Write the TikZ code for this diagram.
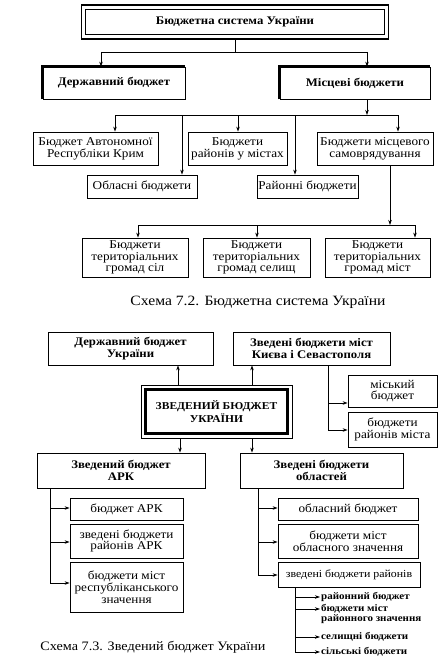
\documentclass[tikz,border=0pt]{standalone}
\usepackage{fontspec}
\setmainfont[FakeStretch=1.1]{Liberation Serif}
\usetikzlibrary{arrows.meta}
\begin{document}
\begin{tikzpicture}[x=1pt, y=-1pt]
\useasboundingbox (0,0) rectangle (444,661);

\tikzset{BoxStyle/.style = {
 draw,
 line width = 0.8pt,
 align = center,
 inner sep = 1pt,
 font = \fontsize{12}{11.8}\selectfont} }
\tikzset{HeadStyle/.style = {BoxStyle, font = \fontsize{11.6}{12.5}\selectfont\bfseries} }
\tikzset{ListStyle/.style = {inner sep = 1pt, align = left, font = \fontsize{10}{10.5}\selectfont\bfseries} }
\tikzset{LineStyle/.style = {line width = 0.7pt} }
\tikzset{ArrowStyle/.style = {LineStyle, -{Stealth[length=5pt, width=3.5pt]}} }

% Схема 7.2
\node[HeadStyle, line width=1.6pt, minimum width=307pt, minimum height=34pt] (SYS) at (235,22) {Бюджетна система України};
\draw[LineStyle] ([xshift=5pt,yshift=-5pt]SYS.north west) rectangle ([xshift=-5pt,yshift=5pt]SYS.south east);

\node[HeadStyle, minimum width=142pt, minimum height=32pt] (DB) at (114,83) {Державний бюджет};
\node[HeadStyle, minimum width=150pt, minimum height=32pt] (MB) at (355,83) {Місцеві бюджети};
\draw[line width=2.4pt] (DB.south west) -- (DB.north west) -- (DB.north east);
\draw[line width=2.4pt] (MB.south west) -- (MB.north west) -- (MB.north east);

\coordinate (S1) at (101,52);
\coordinate (S2) at (367,52);
\draw[LineStyle] (SYS.south) -- (SYS.south |- S1);
\draw[LineStyle] (S1) -- (S2);
\draw[ArrowStyle] (S1) -- (S1 |- DB.north);
\draw[ArrowStyle] (S2) -- (S2 |- MB.north);

\node[BoxStyle, minimum width=125pt, minimum height=33pt] (AR) at (95.5,148.5) {Бюджет Автономної\\Республіки Крим};
\node[BoxStyle, minimum width=99pt, minimum height=33pt] (RM) at (237.5,148.5) {Бюджети\\районів у містах};
\node[BoxStyle, minimum width=116pt, minimum height=33pt] (SV) at (375,148.5) {Бюджети місцевого\\самоврядування};
\node[BoxStyle, minimum width=110pt, minimum height=23pt] (OB) at (142,186.5) {Обласні бюджети};
\node[BoxStyle, minimum width=101pt, minimum height=23pt] (RB) at (307.5,186.5) {Районні бюджети};

\coordinate (L1) at (115,115);
\coordinate (L2) at (182,115);
\coordinate (L3) at (238,115);
\coordinate (L4) at (295,115);
\coordinate (L5) at (398,115);
\draw[ArrowStyle] (S2 |- MB.south) -- (S2 |- L1);
\draw[LineStyle] (L1) -- (L5);
\draw[ArrowStyle] (L1) -- (L1 |- AR.north);
\draw[ArrowStyle] (L2) -- (L2 |- OB.north);
\draw[ArrowStyle] (L3) -- (L3 |- RM.north);
\draw[ArrowStyle] (L4) -- (L4 |- RB.north);
\draw[ArrowStyle] (L5) -- (L5 |- SV.north);

\node[BoxStyle, minimum width=106pt, minimum height=39pt] (GS) at (135,257.5) {Бюджети\\територіальних\\громад сіл};
\node[BoxStyle, minimum width=107pt, minimum height=39pt] (GL) at (256.5,257.5) {Бюджети\\територіальних\\громад селищ};
\node[BoxStyle, minimum width=105pt, minimum height=39pt] (GM) at (377.5,257.5) {Бюджети\\територіальних\\громад міст};

\coordinate (G0) at (390,225);
\coordinate (G1) at (138,225);
\coordinate (G2) at (257,225);
\coordinate (G3) at (415,225);
\draw[ArrowStyle] (G0 |- SV.south) -- (G0);
\draw[LineStyle] (G1) -- (G3);
\draw[ArrowStyle] (G1) -- (G1 |- GS.north);
\draw[ArrowStyle] (G2) -- (G2 |- GL.north);
\draw[ArrowStyle] (G3) -- (G3 |- GM.north);

\node[font=\fontsize{14.2}{16}\selectfont] (CAP1) at (258,302) {Схема 7.2. Бюджетна система України};

% Схема 7.3
\node[HeadStyle, minimum width=165pt, minimum height=33pt] (DU) at (130.5,348.5) {Державний бюджет\\України};
\node[HeadStyle, minimum width=157pt, minimum height=33pt] (ZK) at (311.5,348.5) {Зведені бюджети міст\\Києва і Севастополя};
\node[HeadStyle, font=\fontsize{10.5}{13}\selectfont\bfseries, minimum width=151pt, minimum height=53pt] (ZB) at (216.5,411.5) {ЗВЕДЕНИЙ БЮДЖЕТ\\УКРАЇНИ};
\draw[line width=3pt] ([xshift=4.5pt,yshift=-4.5pt]ZB.north west) rectangle ([xshift=-4.5pt,yshift=4.5pt]ZB.south east);

\coordinate (U1) at (178,385);
\coordinate (U2) at (252,385);
\draw[ArrowStyle] (U1) -- (U1 |- DU.south);
\draw[ArrowStyle] (U2) -- (U2 |- ZK.south);

\node[BoxStyle, minimum width=89pt, minimum height=32pt] (MC) at (392.5,391) {міський\\бюджет};
\node[BoxStyle, minimum width=89pt, minimum height=35pt] (RN) at (392.5,429.5) {бюджети\\районів міста};

\coordinate (K1) at (328,403);
\coordinate (K2) at (328,430);
\draw[LineStyle] (K1 |- ZK.south) -- (K2);
\draw[ArrowStyle] (K1) -- (K1 -| MC.west);
\draw[ArrowStyle] (K2) -- (K2 -| RN.west);

\node[HeadStyle, minimum width=168pt, minimum height=35pt] (ARK) at (121,470.5) {Зведений бюджет\\АРК};
\node[HeadStyle, minimum width=163pt, minimum height=35pt] (OBL) at (321.5,470.5) {Зведені бюджети\\областей};

\coordinate (D1) at (180,438);
\coordinate (D2) at (252,438);
\draw[ArrowStyle] (D1) -- (D1 |- ARK.north);
\draw[ArrowStyle] (D2) -- (D2 |- OBL.north);

\node[BoxStyle, minimum width=113pt, minimum height=22pt] (KA) at (126.5,509) {бюджет АРК};
\node[BoxStyle, minimum width=113pt, minimum height=34pt] (KB) at (126.5,541) {зведені бюджети\\районів АРК};
\node[BoxStyle, minimum width=113pt, minimum height=50pt] (KC) at (126.5,587) {бюджети міст\\республіканського\\значення};

\coordinate (A1) at (50,508);
\coordinate (A2) at (50,542);
\coordinate (A3) at (50,583);
\draw[LineStyle] (A1 |- ARK.south) -- (A3);
\draw[ArrowStyle] (A1) -- (A1 -| KA.west);
\draw[ArrowStyle] (A2) -- (A2 -| KB.west);
\draw[ArrowStyle] (A3) -- (A3 -| KC.west);

\node[BoxStyle, minimum width=140pt, minimum height=22pt] (QA) at (348,509) {обласний бюджет};
\node[BoxStyle, minimum width=140pt, minimum height=34pt] (QB) at (348,541) {бюджети міст\\обласного значення};
\node[BoxStyle, font=\fontsize{10.8}{11.5}\selectfont, minimum width=142pt, minimum height=25pt] (QC) at (349,574.5) {зведені бюджети районів};

\coordinate (B1) at (258,508);
\coordinate (B2) at (258,542);
\coordinate (B3) at (258,575);
\draw[LineStyle] (B1 |- OBL.south) -- (B3);
\draw[ArrowStyle] (B1) -- (B1 -| QA.west);
\draw[ArrowStyle] (B2) -- (B2 -| QB.west);
\draw[ArrowStyle] (B3) -- (B3 -| QC.west);

\node[ListStyle, anchor=west] (LR) at (320,597) {районний бюджет};
\node[ListStyle, anchor=north west] (LM) at (320,603) {бюджети міст\\районного значення};
\node[ListStyle, anchor=west] (LS) at (320,637) {селищні бюджети};
\node[ListStyle, anchor=west] (LV) at (320,652) {сільські бюджети};

\coordinate (R1) at (295,597);
\coordinate (R2) at (295,609);
\coordinate (R3) at (295,637);
\coordinate (R4) at (295,652);
\draw[LineStyle] (R1 |- QC.south) -- (R4);
\draw[ArrowStyle] (R1) -- (R1 -| LR.west);
\draw[ArrowStyle] (R2) -- (R2 -| LM.west);
\draw[ArrowStyle] (R3) -- (R3 -| LS.west);
\draw[ArrowStyle] (R4) -- (R4 -| LV.west);

\node[font=\fontsize{12.9}{14}\selectfont] (CAP2) at (153,647) {Схема 7.3. Зведений бюджет України};

\end{tikzpicture}
\end{document}
